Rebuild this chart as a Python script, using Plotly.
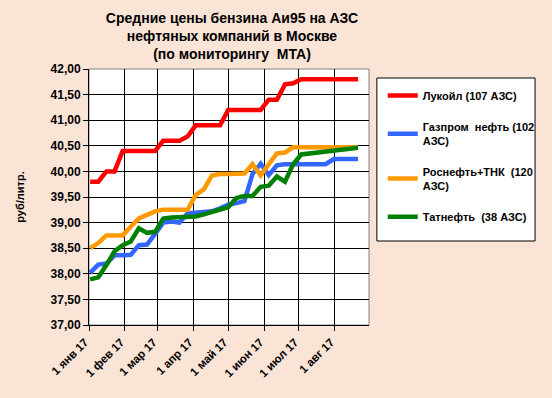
import plotly.graph_objects as go

dates = [
    "2017-01-02", "2017-01-09", "2017-01-16", "2017-01-23", "2017-01-30",
    "2017-02-06", "2017-02-13", "2017-02-20", "2017-02-27",
    "2017-03-06", "2017-03-13", "2017-03-20", "2017-03-27",
    "2017-04-03", "2017-04-10", "2017-04-17", "2017-04-24",
    "2017-05-01", "2017-05-08", "2017-05-15", "2017-05-22", "2017-05-29",
    "2017-06-05", "2017-06-12", "2017-06-19", "2017-06-26",
    "2017-07-03", "2017-07-10", "2017-07-17", "2017-07-24", "2017-07-31",
    "2017-08-07", "2017-08-14", "2017-08-21",
]

lukoil = [39.80, 39.80, 40.00, 40.00, 40.40, 40.40, 40.40, 40.40, 40.40,
          40.60, 40.60, 40.60, 40.68, 40.90, 40.90, 40.90, 40.90,
          41.20, 41.20, 41.20, 41.20, 41.20, 41.40, 41.40, 41.70, 41.72,
          41.80, 41.80, 41.80, 41.80, 41.80, 41.80, 41.80, 41.80]

gazprom = [38.02, 38.18, 38.20, 38.36, 38.36, 38.37, 38.56, 38.57, 38.78,
           39.00, 39.02, 39.00, 39.18, 39.19, 39.20, 39.22, 39.28,
           39.35, 39.38, 39.42, 39.95, 40.15, 39.93, 40.12, 40.14, 40.14,
           40.14, 40.14, 40.14, 40.14, 40.24, 40.24, 40.24, 40.24]

rosneft = [38.50, 38.60, 38.75, 38.75, 38.75, 38.92, 39.08, 39.15, 39.22,
           39.25, 39.25, 39.25, 39.25, 39.54, 39.65, 39.92, 39.95,
           39.95, 39.96, 39.96, 40.14, 39.92, 40.14, 40.35, 40.37, 40.47,
           40.47, 40.47, 40.47, 40.47, 40.47, 40.47, 40.47, 40.47]

tatneft = [37.89, 37.93, 38.17, 38.44, 38.56, 38.63, 38.89, 38.80, 38.82,
           39.08, 39.10, 39.10, 39.10, 39.12, 39.16, 39.21, 39.27,
           39.30, 39.48, 39.52, 39.52, 39.70, 39.72, 39.90, 39.80, 40.14,
           40.33, 40.35, 40.36, 40.37, 40.40, 40.42, 40.43, 40.46]

series_names = ["Лукойл (107 АЗС)", "Газпром  нефть (102<br>АЗС)",
                "Роснефть+ТНК  (120<br>АЗС)", "Татнефть  (38 АЗС)"]
series_values = [lukoil, gazprom, rosneft, tatneft]
series_colors = ["#FF0000", "#3366FF", "#FF9900", "#008000"]

month_ticks = ["2017-01-01", "2017-02-01", "2017-03-01", "2017-04-01",
               "2017-05-01", "2017-06-01", "2017-07-01", "2017-08-01"]
month_labels = ["1 янв 17", "1 фев 17", "1 мар 17", "1 апр 17",
                "1 май 17", "1 июн 17", "1 июл 17", "1 авг 17"]

title_text = "Средние цены бензина Аи95 на АЗС<br>нефтяных компаний в Москве<br>(по мониторингу  МТА)"
y_label = "руб/литр."

FONT = "Arial, Liberation Sans, sans-serif"
BG = "rgb(250,228,214)"

fig = go.Figure()
for i, (name, vals, col) in enumerate(zip(series_names, series_values, series_colors)):
    fig.add_trace(go.Scatter(
        x=dates, y=vals, mode="lines", name=name,
        line=dict(color=col, width=4.5),
        legendgroup=f"g{i}",
    ))

# legend box (white with black border)
fig.add_shape(type="rect", xref="paper", yref="paper",
              x0=(382 - 89) / 285, x1=(543 - 89) / 285,
              y0=(325 - 241) / 256, y1=(325 - 78) / 256,
              line=dict(color="black", width=1), fillcolor="white", layer="below")
# plot area border (grey)
fig.add_shape(type="rect", xref="paper", yref="paper", x0=0, x1=1, y0=0, y1=1,
              line=dict(color="#808080", width=1), layer="below")

fig.update_layout(
    width=552, height=398,
    paper_bgcolor=BG, plot_bgcolor="white",
    margin=dict(l=89, r=178, t=69, b=73),
    separators=",.",
    font=dict(family=FONT, size=11, color="black", weight="bold"),
    title=dict(text=title_text, x=232 / 552, xanchor="center",
               y=1 - 23 / 398, yanchor="top",
               font=dict(family=FONT, size=14, color="black", weight="bold")),
    showlegend=True,
    legend=dict(x=(388 - 89) / 285, xanchor="left", y=(325 - 81) / 256, yanchor="top",
                bgcolor="rgba(0,0,0,0)", borderwidth=0,
                font=dict(family=FONT, size=11, color="black", weight="bold"),
                tracegroupgap=13, itemwidth=30),
    xaxis=dict(type="date", range=["2017-01-01", "2017-08-30 10:00"],
               tickvals=month_ticks, ticktext=month_labels, tickangle=-45,
               showgrid=True, gridcolor="black", gridwidth=1,
               showline=True, linecolor="black", linewidth=1,
               ticks="outside", ticklen=5, tickcolor="black",
               ticklabelshift=-4,
               tickfont=dict(family=FONT, size=11.5, color="black", weight="bold"),
               zeroline=False),
    yaxis=dict(range=[37, 42], dtick=0.5, tick0=37, tickformat=".2f",
               showgrid=True, gridcolor="black", gridwidth=1,
               showline=True, linecolor="black", linewidth=1,
               ticks="outside", ticklen=5, tickcolor="black",
               tickfont=dict(family=FONT, size=12, color="black", weight="bold"),
               title=dict(text=y_label, standoff=23,
                          font=dict(family=FONT, size=11, color="black", weight="bold")),
               zeroline=False),
)

fig.write_html("out.html", config={"displayModeBar": False},
               post_script="document.body.style.margin='0';")
